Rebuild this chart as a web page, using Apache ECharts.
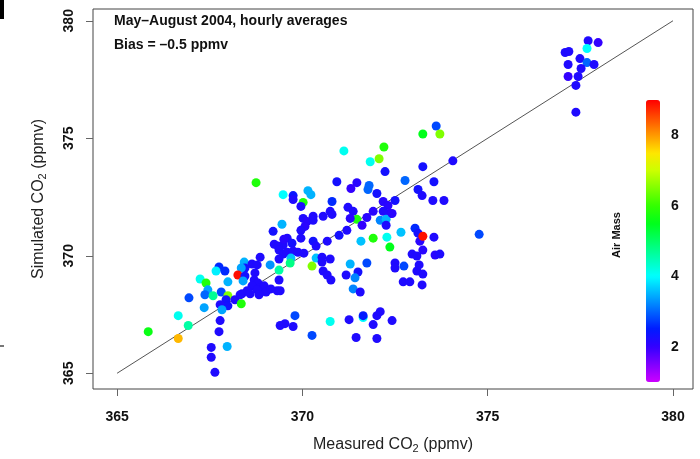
<!DOCTYPE html>
<html>
<head>
<meta charset="utf-8">
<script src="https://cdn.jsdelivr.net/npm/echarts@6/dist/echarts.min.js"></script>
<style>html,body{margin:0;padding:0;background:#fff;}#chart{width:700px;height:459px;}</style>
</head>
<body>
<div id="chart"></div>
<script>
// Measured CO2 (ppmv)
const measured = [
377.71,377.98,377.68,377.09,377.19,377.49,377.68,377.87,377.17,377.52,377.17,377.44,377.38,377.38,
373.61,373.25,373.71,372.20,372.07,371.12,371.83,373.25,374.06,372.23,372.77,373.55,370.93,371.47,371.31,371.80,371.77,372.01,373.12,373.23,373.52,373.82,372.50,372.18,372.31,372.36,372.18,
370.15,370.23,369.48,369.75,369.75,370.02,369.96,370.80,371.23,371.37,370.75,370.80,370.56,370.02,370.13,370.29,370.29,370.07,369.45,371.47,371.29,371.61,371.74,371.91,372.10,372.26,372.26,372.42,
371.20,370.99,369.96,369.96,369.59,369.48,369.72,370.29,370.37,370.67,371.91,372.28,371.58,372.66,373.04,373.12,373.17,373.25,373.55,372.36,373.25,372.96,373.09,373.58,373.71,374.77,
368.75,369.21,369.50,369.24,369.34,369.37,369.48,369.59,369.75,369.88,369.37,369.69,369.67,368.86,368.43,368.64,368.78,368.45,369.13,367.75,367.67,367.91,368.35,368.26,368.45,368.72,369.37,
367.24,367.40,367.45,367.99,368.40,368.70,368.80,368.64,368.86,368.97,368.78,369.02,369.15,369.32,369.37,368.51,368.37,368.59,368.83,367.37,367.59,367.81,367.99,367.94,367.99,368.18,368.32,368.35,367.78,367.83,366.94,367.35,366.65,366.92,365.84,366.65,367.78,367.75,367.54,367.54,367.64,367.97,369.40,369.53,369.75,369.80,
370.04,370.37,370.26,370.53,370.53,370.75,370.56,370.67,370.77,371.18,371.29,371.50,371.42,371.37,371.56,371.74,372.50,372.50,372.74,373.09,373.15,373.25,372.72,372.90,373.23,369.40,370.26,370.75,371.26,371.45,371.64,371.64,372.01,372.10,371.91,372.01,372.42
];
// Simulated CO2 (ppmv)
const simulated = [
379.15,379.07,378.82,378.65,378.69,378.39,378.22,378.14,378.14,377.97,377.63,377.63,377.25,376.11,
375.52,375.18,375.18,374.63,374.13,374.46,374.00,373.79,374.04,373.58,373.20,373.15,373.15,373.11,372.86,372.99,372.82,372.65,372.82,372.56,372.35,372.35,372.35,372.31,372.14,371.80,371.89,
372.77,372.60,372.60,372.56,372.39,372.27,372.10,372.31,372.06,371.89,371.89,371.76,371.68,371.59,371.46,371.68,371.51,371.25,371.34,371.55,371.59,371.30,371.63,371.89,371.51,371.55,371.30,371.80,
371.08,370.87,371.08,370.75,370.75,370.45,370.53,370.62,370.41,370.62,370.75,370.79,370.62,371.00,371.17,370.96,370.62,370.83,370.79,370.37,370.24,370.07,369.99,370.03,370.07,370.91,
373.11,371.04,370.70,370.49,370.41,370.24,370.07,370.15,370.20,370.15,369.86,369.90,369.69,369.94,369.73,369.65,369.61,369.48,369.61,369.52,369.35,369.35,369.48,369.18,369.14,369.27,369.39,
369.01,368.84,368.55,368.89,368.93,368.97,368.84,368.72,368.63,368.72,368.55,368.46,368.59,368.51,368.97,368.51,368.38,368.38,368.34,368.34,368.30,368.46,368.30,368.13,367.87,368.13,368.34,367.96,367.92,367.70,368.21,367.79,367.45,367.03,366.77,366.48,367.24,366.77,366.10,365.68,365.04,366.14,367.03,367.11,366.99,367.45,
370.11,369.90,369.56,369.94,369.73,369.86,369.35,369.18,368.97,369.18,369.65,369.31,369.06,368.59,368.46,369.69,369.69,369.48,369.56,369.35,369.61,369.22,368.89,368.89,368.76,368.51,366.61,367.20,367.28,366.52,367.37,367.45,367.45,367.62,367.07,366.48,367.24
];
// Air mass index (colour)
const airMass = [
2.2,2.0,4.0,2.2,2.2,2.2,3.0,2.2,2.2,2.2,2.0,2.2,2.2,2.2,
2.8,5.5,6.5,5.8,6.5,4.1,4.1,2.3,2.2,2.3,3.0,2.3,2.3,2.1,2.0,3.0,3.0,2.3,2.3,2.2,2.2,2.2,2.3,2.1,2.1,2.1,2.2,
3.5,3.5,4.0,2.4,2.2,5.8,2.2,2.6,2.2,2.2,2.2,2.2,2.2,2.2,2.1,2.2,2.2,2.1,3.5,5.8,2.1,2.0,2.1,2.1,3.2,3.5,2.2,2.1,
2.2,2.3,2.2,2.2,2.2,2.2,2.3,2.3,2.2,2.2,5.8,4.1,3.6,3.6,2.6,2.3,2.1,8.9,2.2,5.5,2.1,2.2,2.2,2.1,2.2,2.8,
5.8,2.3,2.1,2.2,2.2,2.2,2.2,2.2,2.2,2.2,2.2,3.6,4.8,2.2,3.5,2.2,2.2,2.3,3.3,2.6,3.9,2.6,3.4,8.9,2.3,2.2,4.6,
4.1,5.8,3.4,3.5,3.4,2.2,2.2,2.2,2.2,2.2,2.2,2.2,2.2,2.2,2.2,2.2,2.2,2.2,2.2,3.0,4.7,2.8,6.5,2.3,2.3,2.2,2.2,5.8,2.2,3.4,2.8,3.4,4.1,4.6,5.6,7.8,2.2,2.2,2.2,2.2,2.2,3.5,2.2,2.2,2.2,2.8,
2.2,3.6,6.5,2.2,2.2,2.2,2.2,2.2,2.2,2.2,3.5,2.3,3.2,3.2,2.2,2.8,2.2,2.2,2.8,2.2,2.2,2.2,2.2,2.2,2.2,2.2,2.8,4.1,2.2,2.2,4.0,2.5,2.2,2.2,2.2,2.2,2.2
];
// 1:1 line ends
const oneToOne = [365, 380];
// tick labels
const axisTicks = [365, 370, 375, 380];
const airMassTicks = [2, 4, 6, 8];
const airMassRange = [1, 9];

const rainbow = ['#CC00FF','#8000FF','#3300FF','#001AFF','#0066FF','#00B3FF','#00FFFF','#00FFB3','#00FF66','#00FF1A','#33FF00','#80FF00','#CCFF00','#FFE600','#FF9900','#FF4D00','#FF0000'];

const FONT = "'Liberation Sans', Arial, Helvetica, sans-serif";
const points = measured.map((m, i) => [m, simulated[i], airMass[i]]);

const chart = echarts.init(document.getElementById('chart'), null, {renderer: 'canvas'});
chart.setOption({
  animation: false,
  backgroundColor: '#fff',
  grid: [
    {left: 93, top: 9, width: 600, height: 383, show: true, borderColor: '#444', borderWidth: 1, backgroundColor: 'transparent'},
    {left: 646, top: 100, width: 14, height: 282, show: false}
  ],
  xAxis: [
    {
      type: 'value', gridIndex: 0, min: 364.35, max: 380.54,
      name: 'Measured CO{sub|2} (ppmv)', nameLocation: 'middle', nameGap: 46,
      nameTextStyle: {fontFamily: FONT, fontSize: 16, color: '#222',
        rich: {sub: {fontSize: 11, verticalAlign: 'bottom', padding: [8, 0, 0, 0], fontFamily: FONT, color: '#222'}}},
      axisLine: {show: false},
      axisTick: {show: true, inside: false, length: 7, customValues: axisTicks, lineStyle: {color: '#666'}},
      axisLabel: {show: true, customValues: axisTicks, margin: 21, fontFamily: FONT, fontSize: 14, fontWeight: 'bold', color: '#111'},
      splitLine: {show: false}
    },
    {type: 'value', gridIndex: 1, show: false, min: 0, max: 1}
  ],
  yAxis: [
    {
      type: 'value', gridIndex: 0, min: 364.33, max: 380.5,
      name: 'Simulated CO{sub|2} (ppmv)', nameLocation: 'middle', nameGap: 45,
      nameTextStyle: {fontFamily: FONT, fontSize: 16, color: '#222',
        rich: {sub: {fontSize: 11, verticalAlign: 'bottom', padding: [8, 0, 0, 0], fontFamily: FONT, color: '#222'}}},
      axisLine: {show: false},
      axisTick: {show: true, inside: false, length: 7, customValues: axisTicks, lineStyle: {color: '#666'}},
      axisLabel: {show: true, customValues: axisTicks, rotate: 90, margin: 17, fontFamily: FONT, fontSize: 14, fontWeight: 'bold', color: '#111'},
      splitLine: {show: false}
    },
    {
      type: 'value', gridIndex: 1, min: airMassRange[0], max: airMassRange[1], position: 'right',
      axisLine: {show: false},
      axisTick: {show: true, inside: false, length: 7, customValues: airMassTicks, lineStyle: {color: '#666'}},
      axisLabel: {show: true, customValues: airMassTicks, margin: 11, fontFamily: FONT, fontSize: 14, fontWeight: 'bold', color: '#111'},
      splitLine: {show: false}
    }
  ],
  visualMap: {
    type: 'continuous', min: airMassRange[0], max: airMassRange[1], dimension: 2, seriesIndex: 0,
    left: 646, top: 100, itemWidth: 14, itemHeight: 282, padding: 0,
    calculable: false, hoverLink: false, text: null, showLabel: false,
    inRange: {color: rainbow}
  },
  series: [
    {
      type: 'scatter', xAxisIndex: 0, yAxisIndex: 0, data: points, symbolSize: 9,
      itemStyle: {opacity: 1}, z: 3
    },
    {
      type: 'line', xAxisIndex: 0, yAxisIndex: 0, data: [[oneToOne[0], oneToOne[0]], [oneToOne[1], oneToOne[1]]],
      showSymbol: false, symbol: 'none', lineStyle: {color: '#555', width: 1}, silent: true, z: 2
    }
  ],
  graphic: [
    {type: 'rect', shape: {x: 0, y: 0, width: 4, height: 19}, style: {fill: '#000'}},
    {type: 'rect', shape: {x: 0, y: 345, width: 4, height: 2}, style: {fill: '#777'}},
    {type: 'text', x: 114, y: 21, style: {text: 'May\u2013August 2004, hourly averages', font: 'bold 14px ' + FONT, fill: '#111', textVerticalAlign: 'middle'}},
    {type: 'text', x: 114, y: 45, style: {text: 'Bias = \u20130.5 ppmv', font: 'bold 14px ' + FONT, fill: '#111', textVerticalAlign: 'middle'}},
    {type: 'text', x: 617, y: 235, rotation: Math.PI / 2, style: {text: 'Air Mass', font: 'bold 11px ' + FONT, fill: '#111', textAlign: 'center', textVerticalAlign: 'middle'}}
  ]
});
</script>
</body>
</html>
